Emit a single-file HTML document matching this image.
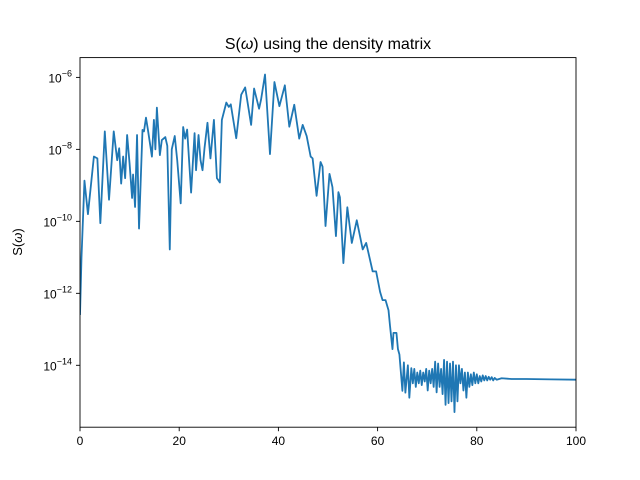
<!DOCTYPE html>
<html><head><meta charset="utf-8"><style>
body{margin:0;background:#fff;}
svg{display:block;font-family:"Liberation Sans","DejaVu Sans",sans-serif;}
</style></head><body>
<svg id="chart" width="640" height="480" xmlns="http://www.w3.org/2000/svg">
<rect width="640" height="480" fill="#fff"/>
<text x="328" y="49" text-anchor="middle" font-size="16">S(<tspan font-style="italic">ω</tspan>) using the density matrix</text>
<text transform="translate(22,242) rotate(-90)" text-anchor="middle" font-size="13">S(<tspan font-style="italic">ω</tspan>)</text>
<g id="ticks"></g>
<clipPath id="clip"><rect x="80" y="57.6" width="496" height="369.6"/></clipPath>
<path id="line" fill="none" stroke="#1f77b4" stroke-width="1.8" stroke-linejoin="round" clip-path="url(#clip)"/>
<rect x="80" y="57.6" width="496" height="369.6" fill="none" stroke="#000" stroke-width="0.9"/>
</svg>
<script>
const xTickValues = [0, 20, 40, 60, 80, 100];
const yTickExps = [-6, -8, -10, -12, -14];
const omega = [0,0.3,0.9,1.6,2.8,3.5,4.1,5.0,5.85,6.8,7.5,7.9,8.3,8.7,9.1,9.5,10.0,10.5,10.7,11.1,11.5,11.9,12.6,12.9,13.3,13.7,14.5,14.9,15.2,15.5,16.1,16.5,17.2,17.6,18.1,18.5,19.1,19.6,20.3,20.8,21.2,21.6,22.4,23.1,23.4,23.9,24.3,24.7,25.1,25.7,26.3,27.0,27.6,28.2,28.6,29.5,30.0,30.4,31.5,32.5,33.3,33.7,34.5,35.1,36.1,36.5,37.3,38.3,39.2,40.2,41.3,42.2,43.2,44.2,44.9,45.7,46.5,46.9,47.7,48.5,48.9,49.5,50.3,50.9,51.6,52.1,52.4,53.1,53.9,54.8,55.8,57.0,57.7,59.0,59.7,60.5,61.0,61.6,62.2,62.5,63.0,63.2,63.8,64.1,64.4,65.0,65.3,65.6,66.1,66.4,66.8,67.1,
67.4,67.7,68.0,68.3,68.6,68.9,69.2,69.5,69.8,70.1,70.4,70.7,71.0,71.3,71.6,71.9,72.2,72.5,72.8,73.1,73.4,73.7,74.0,74.3,74.6,74.9,75.2,75.5,75.8,76.1,76.4,76.7,77.0,77.3,77.6,77.9,78.2,78.5,78.8,79.1,79.4,79.7,80.0,80.3,80.6,80.9,81.2,81.5,81.8,82.1,82.4,82.7,83.0,83.3,83.6,84.0,85,87,90,95,100];
const log10S = [-12.6,-11.0,-8.87,-9.8,-8.2,-8.25,-10.05,-7.5,-9.4,-7.5,-8.3,-7.97,-8.95,-8.2,-8.8,-7.6,-8.4,-9.35,-8.7,-9.6,-7.6,-10.2,-7.46,-7.5,-7.12,-7.46,-8.2,-7.18,-8.0,-6.84,-8.16,-7.74,-7.66,-7.9,-10.78,-8.0,-7.63,-8.3,-9.5,-7.38,-7.7,-7.45,-9.2,-7.55,-8.58,-7.6,-8.3,-8.58,-7.97,-7.26,-8.25,-7.18,-8.8,-8.92,-7.18,-6.7,-6.82,-6.75,-7.69,-6.48,-6.28,-6.62,-7.32,-6.31,-6.87,-6.62,-5.92,-8.13,-6.13,-6.8,-6.22,-7.37,-6.76,-7.7,-7.32,-7.63,-8.2,-8.25,-9.29,-8.35,-8.48,-10.13,-8.68,-9.05,-10.41,-9.19,-9.33,-11.16,-9.61,-10.6,-9.97,-10.78,-10.6,-11.39,-11.39,-11.96,-12.19,-12.19,-12.47,-12.9,-13.55,-13.1,-13.1,-13.55,-13.7,-14.71,-13.92,-14.76,-14.0,-14.9,-14.08,-14.5,
-14.1,-14.6,-14.2,-14.5,-14.15,-14.55,-14.2,-14.45,-14.1,-14.7,-14.15,-14.5,-14.1,-14.6,-13.9,-14.75,-13.95,-14.6,-14.1,-14.8,-13.85,-15.1,-13.9,-15.05,-13.95,-15.0,-13.9,-15.3,-14.0,-15.0,-14.0,-14.5,-14.1,-14.7,-14.2,-14.9,-14.2,-14.6,-14.25,-14.55,-14.2,-14.5,-14.25,-14.5,-14.3,-14.45,-14.28,-14.42,-14.3,-14.42,-14.32,-14.4,-14.33,-14.42,-14.35,-14.4,-14.36,-14.38,-14.38,-14.39,-14.4];

const X0=80, X1=576, Y0=57.6, Y1=427.2;
const xMin=0, xMax=100, logMin=-15.72, logMax=-5.45;
function xScale(v){return X0+(v-xMin)/(xMax-xMin)*(X1-X0);}
function yScale(s){const l=Math.log10(s);return Y1-(l-logMin)/(logMax-logMin)*(Y1-Y0);}

const svgNS="http://www.w3.org/2000/svg";
const tg=document.getElementById('ticks');
xTickValues.forEach(v=>{
  const x=xScale(v);
  const t=document.createElementNS(svgNS,'line');
  t.setAttribute('x1',x);t.setAttribute('x2',x);t.setAttribute('y1',Y1);t.setAttribute('y2',Y1+4);
  t.setAttribute('stroke','#000');t.setAttribute('stroke-width','0.9');
  
  
  tg.appendChild(t);
  const lb=document.createElementNS(svgNS,'text');
  lb.setAttribute('x',x);lb.setAttribute('y',Y1+18);lb.setAttribute('text-anchor','middle');lb.setAttribute('font-size','12');
  lb.textContent=v;
  
  
  tg.appendChild(lb);
});
yTickExps.forEach(e=>{
  const y=yScale(Math.pow(10,e));
  const t=document.createElementNS(svgNS,'line');
  t.setAttribute('x1',X0-4);t.setAttribute('x2',X0);t.setAttribute('y1',y);t.setAttribute('y2',y);
  t.setAttribute('stroke','#000');t.setAttribute('stroke-width','0.9');
  
  
  tg.appendChild(t);
  const lb=document.createElementNS(svgNS,'text');
  lb.setAttribute('x',X0-8);lb.setAttribute('y',y+5);lb.setAttribute('text-anchor','end');lb.setAttribute('font-size','12');
  lb.innerHTML='10<tspan dy="-6" font-size="9">\u2212'+Math.abs(e)+'</tspan>';
  
  
  tg.appendChild(lb);
});
let d='';
omega.forEach((w,i)=>{d+=(i?'L':'M')+xScale(w).toFixed(2)+','+yScale(Math.pow(10,log10S[i])).toFixed(2);});
document.getElementById('line').setAttribute('d',d);
</script>
</body></html>
